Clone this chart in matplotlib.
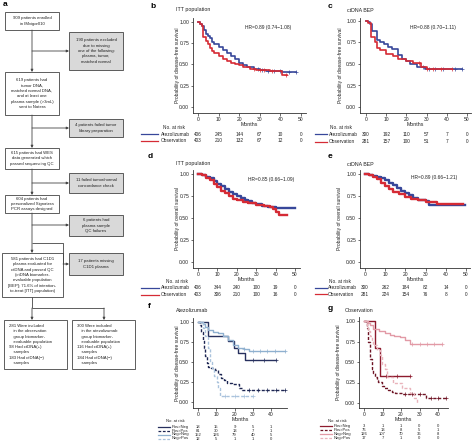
import matplotlib

matplotlib.use("Agg")
import matplotlib.pyplot as plt
import matplotlib.transforms as mtransforms
from matplotlib.patches import Rectangle
import numpy as np

plt.rcParams["font.family"] = ["Liberation Sans", "DejaVu Sans"]

W, H = 474, 446

# ---- KM curves (months, survival) ----
b_atezo_t = [0, 1, 2, 3, 4, 5, 6, 7, 8, 10, 12, 14, 16, 18, 20, 22, 24, 27, 30, 33, 41, 47.5]
b_atezo_s = [1.00, 0.98, 0.95, 0.90, 0.86, 0.84, 0.81, 0.77, 0.74, 0.70, 0.67, 0.63, 0.60, 0.56, 0.52, 0.49, 0.47, 0.45, 0.43, 0.42, 0.41, 0.41]
b_obs_t = [0, 1, 2, 2.6, 4, 5, 6, 7, 8, 10, 12, 14, 16, 18, 20, 22, 25, 28, 31, 35, 41, 43]
b_obs_s = [1.00, 0.98, 0.95, 0.82, 0.78, 0.74, 0.69, 0.66, 0.63, 0.60, 0.57, 0.54, 0.52, 0.50, 0.49, 0.47, 0.45, 0.44, 0.43, 0.42, 0.38, 0.38]
b_atezo_cens = [29, 31, 34, 37, 40, 44, 47.5]
b_obs_cens = [27, 30, 32, 36, 42.5]

c_atezo_t = [0, 1, 2, 3, 5.5, 7, 9, 11, 13, 16, 18, 20, 22, 25, 29, 47.5]
c_atezo_s = [1.00, 0.99, 0.97, 0.88, 0.78, 0.76, 0.73, 0.70, 0.67, 0.60, 0.56, 0.53, 0.50, 0.47, 0.44, 0.44]
c_obs_t = [0, 1, 2.5, 4.5, 5.5, 7, 10, 13.5, 16, 20, 23.5, 27, 30, 42.5]
c_obs_s = [1.00, 0.98, 0.81, 0.76, 0.69, 0.66, 0.62, 0.59, 0.56, 0.53, 0.51, 0.47, 0.44, 0.44]
c_atezo_cens = [28, 31, 34, 38, 44, 47.5]
c_obs_cens = [26, 30, 33, 37, 42.5]

d_atezo_t = [0, 2, 4, 6, 8, 10, 12, 14, 16, 18, 20, 22, 24, 26, 28, 30, 33, 36, 40, 50]
d_atezo_s = [1.00, 0.99, 0.97, 0.95, 0.92, 0.89, 0.86, 0.83, 0.80, 0.77, 0.75, 0.73, 0.71, 0.69, 0.67, 0.66, 0.64, 0.62, 0.61, 0.61]
d_obs_t = [0, 2, 4, 6, 8, 10, 12, 14, 16, 18, 20, 23, 26, 30, 34, 37, 38.5, 40, 42, 46]
d_obs_s = [1.00, 0.99, 0.96, 0.93, 0.89, 0.85, 0.81, 0.78, 0.75, 0.72, 0.70, 0.68, 0.67, 0.65, 0.64, 0.62, 0.60, 0.57, 0.53, 0.53]

e_atezo_t = [0, 2, 4, 6, 8, 10, 12, 14, 16, 18, 20, 22, 24, 26, 28, 30, 31.5, 49.5]
e_atezo_s = [1.00, 0.99, 0.98, 0.97, 0.95, 0.93, 0.90, 0.87, 0.84, 0.81, 0.78, 0.76, 0.73, 0.71, 0.70, 0.69, 0.65, 0.65]
e_obs_t = [0, 2, 4, 6, 8, 10, 12, 14, 17, 20, 23, 26, 30, 35.5, 48.5]
e_obs_s = [1.00, 0.99, 0.97, 0.94, 0.90, 0.86, 0.83, 0.80, 0.77, 0.74, 0.72, 0.70, 0.68, 0.66, 0.66]

f_pn_t = [0, 5.5, 16.5, 19.5, 22, 25.5, 42.5]
f_pn_s = [1.00, 0.83, 0.76, 0.68, 0.61, 0.52, 0.52]
f_pp_t = [0, 1, 1.8, 2.5, 3.2, 4, 4.8, 5.7, 7, 9.4, 11, 12.5, 14, 16, 18.5, 22.4, 24, 47.5]
f_pp_s = [1.00, 0.96, 0.88, 0.78, 0.68, 0.58, 0.49, 0.44, 0.42, 0.40, 0.35, 0.30, 0.27, 0.24, 0.22, 0.17, 0.15, 0.15]
f_nn_t = [0, 2.5, 3.8, 5.7, 8, 11, 13.9, 16.7, 19.4, 22, 25, 28, 47.5]
f_nn_s = [1.00, 0.97, 0.94, 0.90, 0.88, 0.86, 0.83, 0.77, 0.71, 0.68, 0.66, 0.64, 0.64]
f_np_t = [0, 2.5, 3.8, 5.6, 6.5, 7.5, 9, 10.2, 11, 12, 30]
f_np_s = [1.00, 0.92, 0.83, 0.67, 0.50, 0.42, 0.33, 0.25, 0.17, 0.08, 0.08]
f_pn_cens = [30, 36, 42.5]
f_pp_cens = [28, 33, 38, 43, 47.5]
f_nn_cens = [25, 30, 34, 38, 42, 47.5]
f_np_cens = [15, 20, 25, 30]

g_pn_t = [0, 5.8, 8.8, 24.7]
g_pn_s = [1.00, 0.667, 0.333, 0.333]
g_pp_t = [0, 1, 1.4, 2.3, 3.2, 4.1, 5, 5.9, 7, 7.7, 9.5, 11, 13, 15, 16.8, 20.4, 33.5, 44.5]
g_pp_s = [1.00, 0.97, 0.91, 0.75, 0.54, 0.42, 0.37, 0.32, 0.28, 0.26, 0.21, 0.18, 0.16, 0.14, 0.12, 0.105, 0.06, 0.06]
g_nn_t = [0, 2, 3.2, 5, 8, 11.4, 14, 16, 19.5, 22, 24.9, 42.3]
g_nn_s = [1.00, 0.98, 0.95, 0.90, 0.88, 0.85, 0.83, 0.82, 0.80, 0.77, 0.72, 0.72]
g_np_t = [0, 1.5, 2.3, 3.2, 4.1, 5, 7, 8.6, 9.5, 11.4, 12.3, 15.8, 20.4, 24.9, 27, 28.5]
g_np_s = [1.00, 0.94, 0.88, 0.82, 0.76, 0.71, 0.65, 0.59, 0.47, 0.41, 0.32, 0.24, 0.18, 0.12, 0.06, 0.0]
g_pn_cens = [12, 18, 24.7]
g_pp_cens = [22, 26, 30, 36, 40, 44.5]
g_nn_cens = [26, 30, 34, 38, 42.3]

# ---- numbers at risk ----
risk_times_50 = [0, 10, 20, 30, 40, 50]
risk_times_40 = [0, 10, 20, 30, 40]
b_risk_atezo = [406, 245, 144, 67, 10, 0]
b_risk_obs = [403, 210, 132, 67, 12, 0]
c_risk_atezo = [300, 192, 110, 57, 7, 0]
c_risk_obs = [281, 157, 100, 51, 7, 0]
d_risk_atezo = [406, 344, 240, 100, 19, 0]
d_risk_obs = [403, 306, 210, 100, 16, 0]
e_risk_atezo = [300, 262, 184, 82, 14, 0]
e_risk_obs = [281, 224, 154, 76, 8, 0]
f_risk_pn = [18, 15, 9, 5, 1]
f_risk_pp = [81, 30, 13, 7, 1]
f_risk_nn = [152, 126, 79, 40, 5]
f_risk_np = [12, 5, 1, 1, 0]
g_risk_pn = [3, 1, 1, 0, 0]
g_risk_pp = [76, 13, 8, 5, 1]
g_risk_nn = [126, 107, 70, 36, 8]
g_risk_np = [17, 7, 1, 0, 0]

arm_labels = ["Atezolizumab", "Observation"]
group_labels = ["Pos>Neg", "Pos>Pos", "Neg>Neg", "Neg>Pos"]

BLUE = "#37479a"
RED = "#d52b35"
F_COLORS = ["#27305e", "#1c2552", "#8fb0cf", "#a9c2dc"]
G_COLORS = ["#8e1b2e", "#6e1424", "#e29aa6", "#e9b3bb"]
GROUP_LS = ["-", (0, (2.2, 1.3)), "-", (0, (2.2, 1.3))]

fig = plt.figure(figsize=(4.74, 4.46), dpi=100)
base = fig.add_axes([0, 0, 1, 1])
base.set_xlim(0, W)
base.set_ylim(H, 0)
base.axis("off")

EDGE = "#444444"
TXT = "#222222"
BOX_FS = 3.05


# ---------------- panel a: flowchart ----------------
def box(l, t, r, b, text, gray=False, ha="center"):
    base.add_patch(Rectangle((l, t), r - l, b - t, facecolor="#d9d9d9" if gray else "white",
                             edgecolor=EDGE, lw=0.6))
    if ha == "center":
        base.text((l + r) / 2, (t + b) / 2, text, ha="center", va="center", fontsize=BOX_FS,
                  color=TXT, linespacing=1.45)
    else:
        base.text(l + 5, (t + b) / 2, text, ha="left", va="center", fontsize=BOX_FS,
                  color=TXT, linespacing=1.4)


def arrow(x1, y1, x2, y2):
    base.annotate("", xy=(x2, y2), xytext=(x1, y1),
                  arrowprops=dict(arrowstyle="-|>", lw=0.6, color=EDGE, mutation_scale=3.5,
                                  shrinkA=0, shrinkB=0))


def seg(xs, ys):
    base.plot(xs, ys, color=EDGE, lw=0.6, solid_capstyle="butt")


MX = 32
box(5, 12, 59, 30, "909 patients enrolled\nin IMvigor010")
box(69, 32, 123, 70, "190 patients excluded\ndue to missing\none of the following:\nplasma, tumor,\nmatched normal", gray=True)
box(5, 72, 59, 115, "619 patients had\ntumor DNA,\nmatched normal DNA,\nand at least one\nplasma sample (>3mL)\nsent to Natera")
box(69, 119, 123, 137, "4 patients failed tumor\nlibrary preparation", gray=True)
box(5, 148, 59, 169, "615 patients had WES\ndata generated which\npassed sequencing QC")
box(69, 173, 123, 193, "11 failed tumor/normal\nconcordance check", gray=True)
box(5, 195, 59, 213, "604 patients had\npersonalized Signatera\nPCR assays designed")
box(69, 215, 123, 236, "6 patients had\nplasma sample\nQC failures", gray=True)
box(2, 253, 63, 297, "581 patients had C1D1\nplasma evaluated for\nctDNA and passed QC\n(ctDNA biomarker-\nevaluable population\n[BEP]; 71.6% of intention-\nto-treat [ITT] population)")
box(69, 253, 123, 275, "17 patients missing\nC1D1 plasma", gray=True)
box(4, 320, 67, 369, "281 Were included\n    in the observation\n    group biomarker-\n    evaluable population\n98 Had ctDNA(+)\n    samples\n183 Had ctDNA(\u2212)\n    samples", ha="left")
box(72, 320, 135, 369, "300 Were included\n    in the atezolizumab\n    group biomarker-\n    evaluable population\n116 Had ctDNA(+)\n    samples\n184 Had ctDNA(\u2212)\n    samples", ha="left")

arrow(MX, 30, MX, 72)
arrow(MX, 115, MX, 148)
arrow(MX, 169, MX, 195)
arrow(MX, 213, MX, 253)
for yy in [51, 128, 183, 225]:
    arrow(MX, yy, 69, yy)
seg([MX, 63, 63], [243, 243, 264])
arrow(63, 264, 69, 264)
seg([MX, MX], [297, 308])
seg([MX, 104], [308, 308])
arrow(MX, 308, MX, 320)
arrow(104, 308, 104, 320)

base.text(3, 5, "a", fontsize=6, fontweight="bold", ha="left", va="center")


# ---------------- KM panels ----------------
def make_axes(l, t, r, b, x0, xref, xrefval, y0, y1, xticks):
    ax = fig.add_axes([l / W, 1 - b / H, (r - l) / W, (b - t) / H])
    kx = (xref - x0) / xrefval
    ky = y0 - y1
    ax.set_xlim((l - x0) / kx, (r - x0) / kx)
    ax.set_ylim((y0 - b) / ky, (y0 - t) / ky)
    ax.set_xticks(xticks)
    ax.set_yticks([0, 0.25, 0.5, 0.75, 1.0])
    ax.set_yticklabels(["0.00", "0.25", "0.50", "0.75", "1.00"])
    for side in ["top", "right"]:
        ax.spines[side].set_visible(False)
    for side in ["left", "bottom"]:
        ax.spines[side].set_linewidth(0.6)
        ax.spines[side].set_color("#333333")
    ax.tick_params(labelsize=3.6, length=1.8, width=0.5, pad=1, colors="#333333", labelcolor=TXT)
    ax.patch.set_alpha(0)
    return ax


def curve(ax, t, s, color, ls="-", lw=1.2, cens=None):
    ax.step(t, s, where="post", color=color, ls=ls, lw=lw)
    if cens:
        idx = np.searchsorted(t, cens, side="right") - 1
        ax.plot(cens, np.array(s)[idx], "+", color=color, ms=2.2, mew=0.5, ls="none")


def labels(ax, l, b, r, t, ylab, ylab_x, xlab_y, title, title_x, title_y, letter, letter_x, letter_y):
    w, h = r - l, b - t
    ax.set_ylabel(ylab, fontsize=3.5, color=TXT)
    ax.yaxis.set_label_coords((ylab_x - l) / w, 0.5)
    ax.set_xlabel("Months", fontsize=3.8, color=TXT)
    ax.xaxis.set_label_coords(0.5, (b - xlab_y) / h)
    base.text(title_x, title_y, title, fontsize=3.8, color=TXT, ha="left", va="center")
    base.text(letter_x, letter_y, letter, fontsize=6, fontweight="bold", ha="left", va="center")


def risk_table(ax, times, rows, names, colors, styles, row_y, head_x, head_y, name_x, line_x0, line_x1, fs):
    tr = mtransforms.blended_transform_factory(ax.transData, base.transData)
    base.text(head_x, head_y, "No. at risk", fontsize=fs, color=TXT, ha="left", va="center")
    for vals, name, col, ls, yy in zip(rows, names, colors, styles, row_y):
        base.plot([line_x0, line_x1], [yy, yy], color=col, ls=ls, lw=0.9)
        base.text(name_x, yy, name, fontsize=fs, color=TXT, ha="left", va="center")
        for tt, v in zip(times, vals):
            ax.text(tt, yy, str(v), transform=tr, fontsize=fs, color=TXT, ha="center", va="center",
                    clip_on=False)


# b
ax = make_axes(193, 18, 306, 113, 198, 301, 50, 107, 22, risk_times_50)
curve(ax, b_atezo_t, b_atezo_s, BLUE, cens=b_atezo_cens)
curve(ax, b_obs_t, b_obs_s, RED, cens=b_obs_cens)
labels(ax, 193, 113, 306, 18, "Probability of disease-free survival", 180, 122,
       "ITT population", 176, 10, "b", 150, 6)
base.text(245, 27, "HR=0.89 (0.74\u22121.08)", fontsize=3.5, color=TXT, ha="left", va="center")
risk_table(ax, risk_times_50, [b_risk_atezo, b_risk_obs], arm_labels, [BLUE, RED], ["-", "-"],
           [134, 141], 163, 127.5, 161, 141, 158, 3.4)

# c
ax = make_axes(360, 18, 471, 113, 366, 467, 50, 107, 21, risk_times_50)
curve(ax, c_atezo_t, c_atezo_s, BLUE, cens=c_atezo_cens)
curve(ax, c_obs_t, c_obs_s, RED, cens=c_obs_cens)
labels(ax, 360, 113, 471, 18, "Probability of disease-free survival", 343, 122,
       "ctDNA BEP", 347, 10, "c", 328, 6)
base.text(410, 27, "HR=0.88 (0.70\u22121.11)", fontsize=3.5, color=TXT, ha="left", va="center")
risk_table(ax, risk_times_50, [c_risk_atezo, c_risk_obs], arm_labels, [BLUE, RED], ["-", "-"],
           [134, 141.5], 330, 127.5, 329, 315, 327, 3.4)

# d
ax = make_axes(193, 170, 300, 268, 198, 295, 50, 262, 174, risk_times_50)
curve(ax, d_atezo_t, d_atezo_s, BLUE, lw=1.7)
curve(ax, d_obs_t, d_obs_s, RED, lw=1.7)
labels(ax, 193, 268, 300, 170, "Probability of overall survival", 180, 277,
       "ITT population", 176, 164, "d", 148, 157)
base.text(248, 180, "HR=0.85 (0.66\u22121.09)", fontsize=3.5, color=TXT, ha="left", va="center")
risk_table(ax, risk_times_50, [d_risk_atezo, d_risk_obs], arm_labels, [BLUE, RED], ["-", "-"],
           [287.5, 295], 166, 281.5, 161, 141, 159, 3.4)

# e
ax = make_axes(360, 170, 470, 268, 365, 466, 50, 262, 174, risk_times_50)
curve(ax, e_atezo_t, e_atezo_s, BLUE, lw=1.7)
curve(ax, e_obs_t, e_obs_s, RED, lw=1.7)
labels(ax, 360, 268, 470, 170, "Probability of overall survival", 342, 277,
       "ctDNA BEP", 347, 164, "e", 328, 157)
base.text(411, 178, "HR=0.89 (0.66\u22121.21)", fontsize=3.5, color=TXT, ha="left", va="center")
risk_table(ax, risk_times_50, [e_risk_atezo, e_risk_obs], arm_labels, [BLUE, RED], ["-", "-"],
           [287.5, 294], 329, 281.5, 328, 315, 327, 3.4)

# f
ax = make_axes(193, 318, 287, 408, 198, 271, 40, 402, 322, risk_times_40)
f_curves = [(f_pn_t, f_pn_s, f_pn_cens), (f_pp_t, f_pp_s, f_pp_cens),
            (f_nn_t, f_nn_s, f_nn_cens), (f_np_t, f_np_s, f_np_cens)]
for (tt, ss, cc), col, ls in zip(f_curves, F_COLORS, GROUP_LS):
    curve(ax, tt, ss, col, ls=ls, lw=1.0, cens=cc)
labels(ax, 193, 408, 287, 318, "Probability of disease-free survival", 180, 417,
       "Atezolizumab", 176, 310, "f", 148, 307)
risk_table(ax, risk_times_40, [f_risk_pn, f_risk_pp, f_risk_nn, f_risk_np], group_labels,
           F_COLORS, GROUP_LS, [426.7, 430.5, 434.5, 438.5], 166, 421, 172, 158, 170, 3.0)

# g
ax = make_axes(359, 317, 448, 408, 364, 438, 40, 403, 321, risk_times_40)
g_curves = [(g_pn_t, g_pn_s, g_pn_cens), (g_pp_t, g_pp_s, g_pp_cens),
            (g_nn_t, g_nn_s, g_nn_cens), (g_np_t, g_np_s, None)]
for (tt, ss, cc), col, ls in zip(g_curves, G_COLORS, GROUP_LS):
    curve(ax, tt, ss, col, ls=ls, lw=1.0, cens=cc)
labels(ax, 359, 408, 448, 317, "Probability of disease-free survival", 341, 417,
       "Observation", 345, 310, "g", 328, 308)
risk_table(ax, risk_times_40, [g_risk_pn, g_risk_pp, g_risk_nn, g_risk_np], group_labels,
           G_COLORS, GROUP_LS, [426.3, 430.3, 434.3, 438.3], 328, 420.5, 334, 320, 332, 3.0)

fig.savefig("out.png", dpi=100)
